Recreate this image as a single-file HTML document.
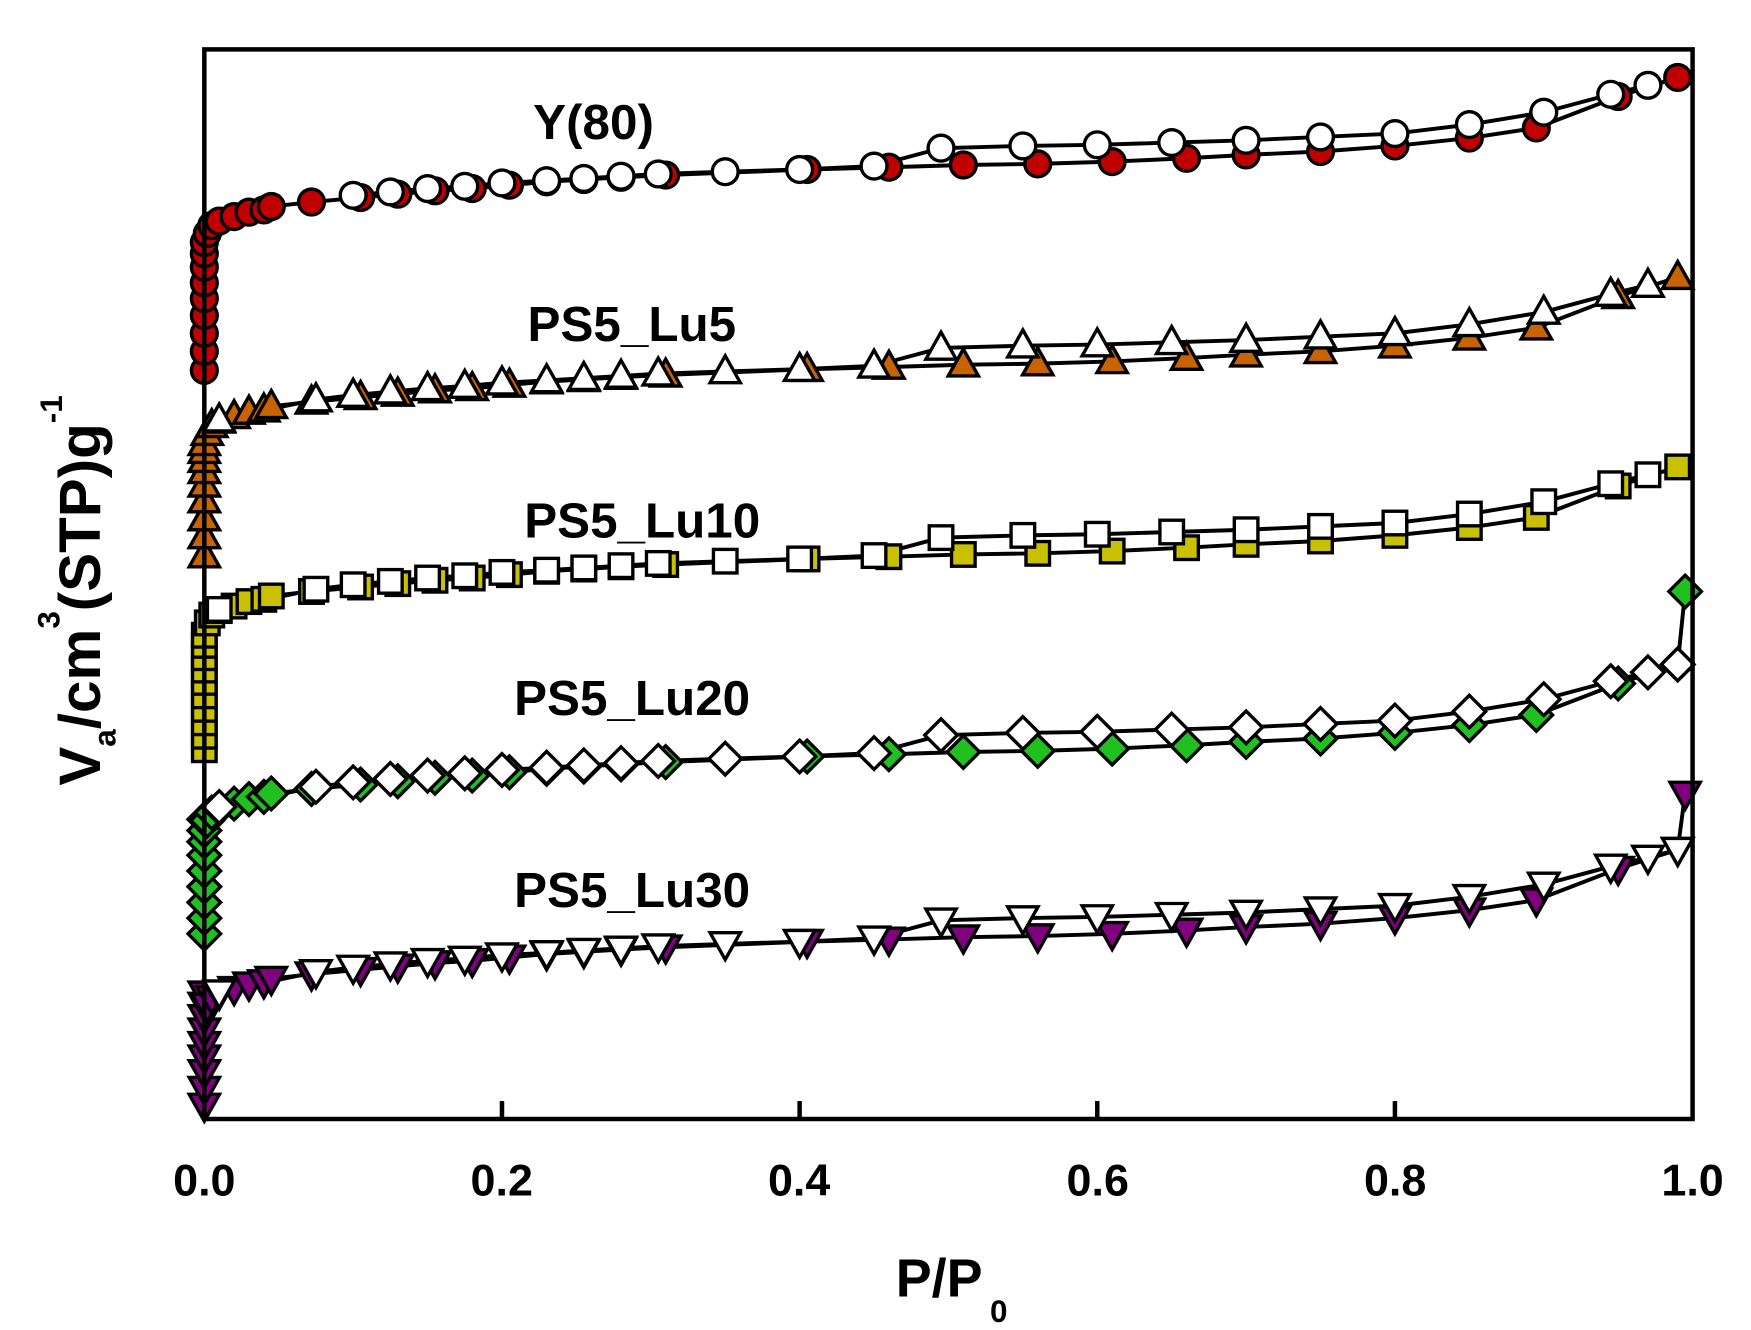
<!DOCTYPE html>
<html><head><meta charset="utf-8"><style>html,body{margin:0;padding:0;background:#fff}svg{display:block}</style></head>
<body>
<svg id="s" xmlns="http://www.w3.org/2000/svg" width="1751" height="1330" viewBox="0 0 1560 1185" font-family="Liberation Sans, Arial, sans-serif" font-weight="bold">
<rect width="1560" height="1185" fill="#fff"/>
<g id="plot"></g>
<rect x="182" y="44" width="1326" height="953" fill="none" stroke="#000" stroke-width="4"/>
<g stroke="#000" stroke-width="4">
<line x1="447.2" y1="997" x2="447.2" y2="981"/><line x1="712.4" y1="997" x2="712.4" y2="981"/>
<line x1="977.6" y1="997" x2="977.6" y2="981"/><line x1="1242.8" y1="997" x2="1242.8" y2="981"/>
</g>
<g font-size="40" text-anchor="middle">
<text x="182" y="1065">0.0</text><text x="447" y="1065">0.2</text><text x="712" y="1065">0.4</text>
<text x="978" y="1065">0.6</text><text x="1243" y="1065">0.8</text><text x="1508" y="1065">1.0</text>
</g>
<text x="798" y="1155" font-size="48">P/P</text><text x="882" y="1178" font-size="28">0</text>
<g transform="translate(89,700) rotate(-90)"><text x="0" y="0" font-size="52">V<tspan font-size="28" dy="14">a</tspan><tspan dy="-14">/cm</tspan><tspan font-size="28" dy="-36">3</tspan><tspan dy="36">(STP)g</tspan><tspan font-size="28" dy="-34">-1</tspan></text></g>
<g font-size="44">
<text x="475" y="124">Y(80)</text>
<text x="470" y="304">PS5_Lu5</text>
<text x="467" y="479">PS5_Lu10</text>
<text x="458" y="637">PS5_Lu20</text>
<text x="458" y="808">PS5_Lu30</text>
</g>
</svg>
<script>
(function(){
var NS="http://www.w3.org/2000/svg",g=document.getElementById('plot');
function X(p){return 182+p*1326;}
var ads=[[.002,208],[.005,201],[.01,197],[.02,193],[.03,189],[.04,187],[.045,184],[.072,180],[.105,176],[.13,173],[.155,170],[.18,168],[.205,165],[.23,162],[.255,160],[.28,158],[.31,156],[.405,151],[.46,149],[.51,147],[.56,146],[.61,144],[.66,141],[.70,138],[.75,135],[.80,130],[.85,123],[.895,114],[.95,86],[.99,69]];
var des=[[.97,76],[.945,84],[.9,100],[.85,111],[.8,119],[.75,122],[.7,125],[.65,127],[.6,129],[.55,130],[.495,132],[.45,148],[.40,151],[.35,153],[.305,155],[.28,157],[.255,159],[.23,161],[.2,163],[.175,166],[.15,168],[.125,171],[.1,174]];
var S=[
 {off:0,col:[330,313,297,281,266,252,238,226,216],c:"#c00000",m:"o",knee:false},
 {off:178,col:[495,478,462,446,432,420,410,402,395],c:"#c86400",m:"tu",knee:true},
 {off:347,col:[668,656,644,632,620,608,597,586,575,566],c:"#c8c000",m:"sq",knee:true},
 {off:523,col:[832,818,804,790,776,762,750,740,730],c:"#20c020",m:"di",knee:true,extra:[.995,527]},
 {off:688,col:[985,970,955,942,930,918,906,895,885],c:"#800080",m:"td",knee:true,extra:[.995,707]}
];
function el(n,a){var e=document.createElementNS(NS,n);for(var k in a)e.setAttribute(k,a[k]);g.appendChild(e);return e;}
function mk(x,y,t,f){var a={fill:f,stroke:"#000","stroke-width":3,"stroke-linejoin":"miter"};
 if(t=="o"){a.cx=x;a.cy=y;a.r=11.5;el("circle",a);}
 else if(t=="sq"){a.x=x-10.5;a.y=y-10.5;a.width=21;a.height=21;el("rect",a);}
 else if(t=="tu"){a.points=(x-13.5)+","+(y+10)+" "+(x+13.5)+","+(y+10)+" "+x+","+(y-14);el("polygon",a);}
 else if(t=="td"){a.points=(x-13.5)+","+(y-10)+" "+(x+13.5)+","+(y-10)+" "+x+","+(y+14);el("polygon",a);}
 else if(t=="di"){a.points=x+","+(y-14.5)+" "+(x+14.5)+","+y+" "+x+","+(y+14.5)+" "+(x-14.5)+","+y;el("polygon",a);}
}
S.forEach(function(s){
 var A=[];s.col.forEach(function(y){A.push([X(0),y]);});
 ads.forEach(function(p){A.push([X(p[0]),p[1]+s.off]);});
 if(s.extra)A.push([X(s.extra[0]),s.extra[1]]);
 var D=des.map(function(p){return [X(p[0]),p[1]+s.off];});
 if(s.knee){D.push([X(.075),178+s.off]);D.push([X(.01),196+s.off]);}
 if(s.extra){D.unshift([X(.99),s.off+69]);}
 var pl=function(P){el("polyline",{points:P.map(function(q){return q.join(",")}).join(" "),fill:"none",stroke:"#000","stroke-width":3.5});};
 pl(A);pl(D);
 A.forEach(function(q){mk(q[0],q[1],s.m,s.c);});
 D.forEach(function(q){mk(q[0],q[1],s.m,"#fff");});
});
})();
</script>
</body></html>
